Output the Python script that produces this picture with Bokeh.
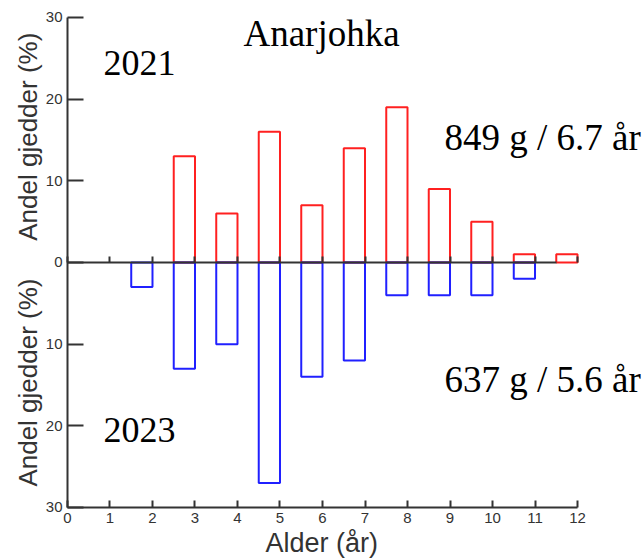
import math
from bokeh.plotting import figure
from bokeh.models import Range1d, FixedTicker, LinearAxis, Label, ColumnDataSource
from bokeh.embed import file_html
from bokeh.resources import INLINE

# ---- data ----
ages_2021 = [3, 4, 5, 6, 7, 8, 9, 10, 11, 12]
pct_2021 = [13, 6, 16, 7, 14, 19, 9, 5, 1, 1]
ages_2023 = [2, 3, 4, 5, 6, 7, 8, 9, 10, 11]
pct_2023 = [3, 13, 10, 27, 14, 12, 4, 4, 4, 2]
x_ticks = list(range(0, 13))
y_ticks = [-30, -20, -10, 0, 10, 20, 30]
y_tick_labels = {t: str(abs(t)) for t in y_ticks}
title_text = "Anarjohka"
year_top = "2021"
year_bottom = "2023"
summary_top = "849 g / 6.7 år"
summary_bottom = "637 g / 5.6 år"
y_label = "Andel gjedder (%)"
x_label = "Alder (år)"

# frame covers the whole canvas; axes are placed at fixed data locations
p = figure(width=644, height=560, output_backend="svg", toolbar_location=None,
           x_range=Range1d(-1.576, 13.576), y_range=Range1d(-36.49, 32.08),
           min_border=0, x_axis_type=None, y_axis_type=None)
p.outline_line_color = None
p.xgrid.visible = False
p.ygrid.visible = False
p.background_fill_color = "white"
p.border_fill_color = "white"

src21 = ColumnDataSource(dict(x=[a - 0.25 for a in ages_2021], top=pct_2021))
src23 = ColumnDataSource(dict(x=[a - 0.25 for a in ages_2023], bottom=[-v for v in pct_2023]))
p.vbar(x="x", top="top", bottom=0, width=0.5, source=src21,
       fill_color=None, line_color="#ff2020", line_width=2)
p.vbar(x="x", top=0, bottom="bottom", width=0.5, source=src23,
       fill_color=None, line_color="#2020ff", line_width=2)

tick_font = "Liberation Sans"
axis_col = "#333333"

def style_axis(ax, tick_in, label_size="15px", standoff=6):
    ax.axis_line_color = axis_col
    ax.axis_line_width = 2
    ax.major_tick_line_color = axis_col
    ax.major_tick_line_width = 2
    ax.major_tick_in = tick_in
    ax.major_tick_out = 0
    ax.minor_tick_line_color = None
    ax.major_label_text_font = tick_font
    ax.major_label_text_font_size = label_size
    ax.major_label_text_color = axis_col
    ax.major_label_standoff = standoff

xaxis = LinearAxis(ticker=FixedTicker(ticks=x_ticks), fixed_location=-30, bounds=(0, 12))
style_axis(xaxis, 7)
p.add_layout(xaxis, "below")

zaxis = LinearAxis(ticker=FixedTicker(ticks=x_ticks), fixed_location=0, bounds=(0, 11.5))
style_axis(zaxis, 6)
zaxis.major_label_text_alpha = 0
p.add_layout(zaxis, "below")

yaxis = LinearAxis(ticker=FixedTicker(ticks=y_ticks), fixed_location=0, bounds=(-30, 30))
style_axis(yaxis, 16, standoff=5)
yaxis.major_label_overrides = y_tick_labels
p.add_layout(yaxis, "left")

serif = "Liberation Serif"
def tlabel(x, y, text, size="36px"):
    p.add_layout(Label(x=x, y=y, text=text, text_font=serif, text_font_size=size,
                       text_color="black", text_baseline="alphabetic"))

tlabel(4.14, 28.0, title_text, "37px")
tlabel(0.85, 24.4, year_top)
tlabel(0.85, -20.5, year_bottom)
tlabel(8.87, 15.3, summary_top, "37px")
tlabel(8.87, -14.3, summary_bottom, "37px")

for yc in (15.4, -14.7):
    p.add_layout(Label(x=-0.92, y=yc, text=y_label, angle=math.pi / 2,
                       text_font=tick_font, text_font_size="26px", text_color=axis_col,
                       text_align="center", text_baseline="alphabetic"))

p.add_layout(Label(x=5.98, y=-34.4, text=x_label, text_font=tick_font,
                   text_font_size="27px", text_color=axis_col,
                   text_align="center", text_baseline="alphabetic"))

open("out.html", "w").write(file_html(p, INLINE))
